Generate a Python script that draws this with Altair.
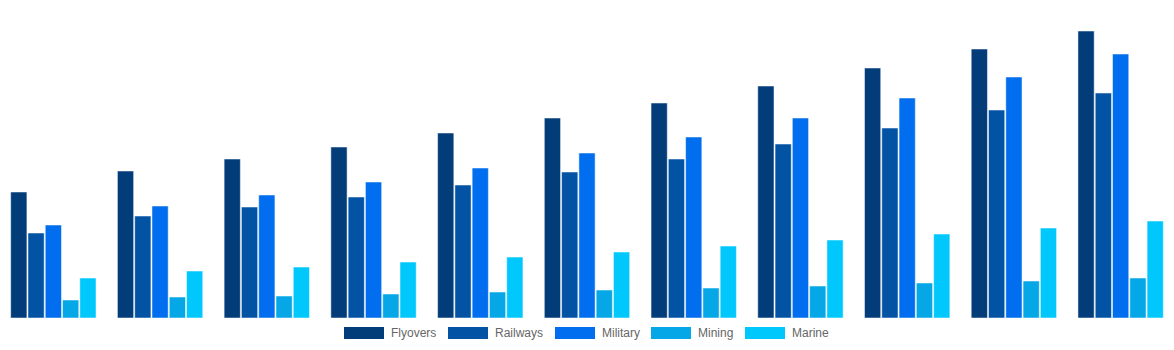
import altair as alt
import pandas as pd

groups = ["G1", "G2", "G3", "G4", "G5", "G6", "G7", "G8", "G9", "G10", "G11"]
series = ["Flyovers", "Railways", "Military", "Mining", "Marine"]
colors = ["#023d7a", "#0353a4", "#006eee", "#06a7e6", "#00c8fd"]

flyovers = [126, 147, 159, 171, 185, 200, 215, 232, 250, 269, 287]
railways = [85, 102, 111, 121, 133, 146, 159, 174, 190, 208, 225]
military = [93, 112, 123, 136, 150, 165, 181, 200, 220, 241, 264]
mining = [18, 21, 22, 24, 26, 28, 30, 32, 35, 37, 40]
marine = [40, 47, 51, 56, 61, 66, 72, 78, 84, 90, 97]

values = [flyovers, railways, military, mining, marine]
rows = []
for s, vals in zip(series, values):
    for g, v in zip(groups, vals):
        rows.append({"group": g, "series": s, "value": v})
df = pd.DataFrame(rows)

legend = alt.Legend(
    title=None,
    orient="none",
    legendX=344,
    legendY=313,
    direction="horizontal",
    symbolType="M-1,-0.3H1V0.3H-1Z",
    symbolSize=1600,
    symbolStrokeWidth=0,
    symbolOpacity=1,
    labelFont="Liberation Sans",
    labelFontSize=12,
    labelColor="#666666",
    labelOffset=7,
    columnPadding=11,
)

chart = alt.Chart(df).mark_bar(
    stroke="white", strokeOpacity=0.5, strokeWidth=1
).encode(
    x=alt.X("group:N", sort=groups, axis=None,
            scale=alt.Scale(paddingInner=0.2, paddingOuter=0.1)),
    xOffset=alt.XOffset("series:N", sort=series,
                        scale=alt.Scale(paddingInner=0.06, paddingOuter=0)),
    y=alt.Y("value:Q", axis=None, scale=alt.Scale(domain=[-32, 318], nice=False, zero=False)),
    y2=alt.datum(0),
    color=alt.Color("series:N", sort=series,
                    scale=alt.Scale(domain=series, range=colors), legend=legend),
).properties(
    width=1174, height=350, padding=0,
    autosize=alt.AutoSizeParams(type="none"),
).configure(background="white").configure_view(stroke=None)

chart.save("out.html", embed_options={"renderer": "svg", "actions": False})
